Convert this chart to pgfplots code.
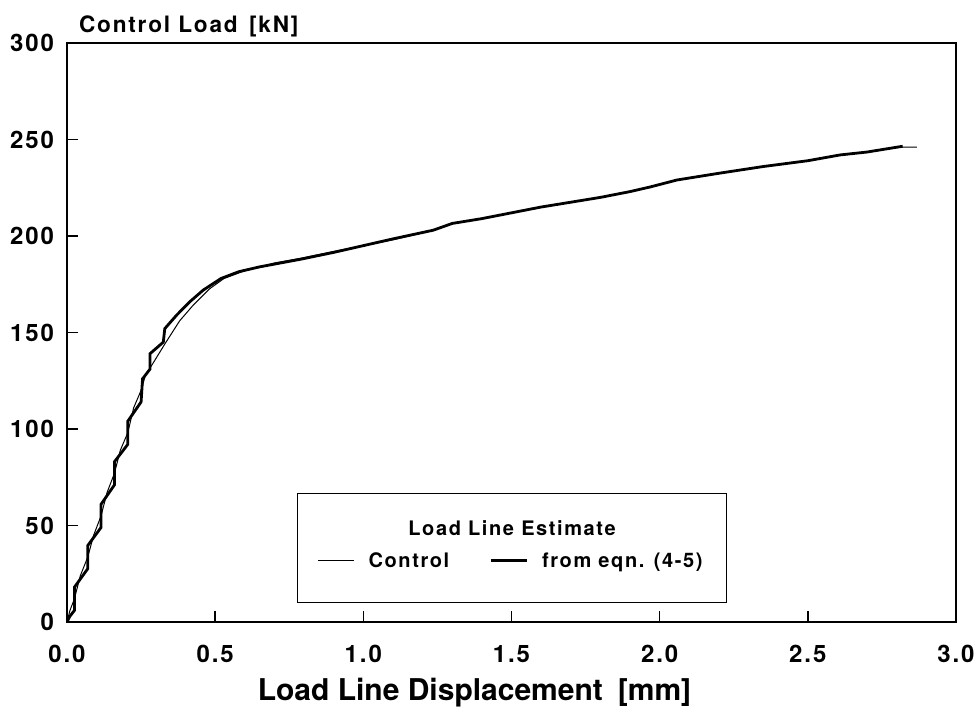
\documentclass[border=0pt]{standalone}
\usepackage{fontspec}
\setmainfont{TeX Gyre Heros}[LetterSpace=8]
\newfontfamily\plainfont{TeX Gyre Heros}
\usepackage{pgfplots}
\pgfplotsset{compat=1.18}

\begin{document}
\begin{tikzpicture}
\path[use as bounding box] (-33.5pt,-46.5pt) rectangle (456.5pt,311pt);
\begin{axis}[
    scale only axis,
    width=444.5pt,
    height=289.5pt,
    at={(0,0)}, anchor=south west,
    xmin=0, xmax=3,
    ymin=0, ymax=300,
    xtick={0,0.5,...,3.0},
    ytick={0,50,...,300},
    tick pos=left,
    tick align=inside,
    major tick length=5.5pt,
    axis line style={line width=0.8pt},
    tick style={line width=0.8pt, black},
    xticklabel={\pgfmathprintnumber[fixed,fixed zerofill,precision=1]{\tick}},
    /pgf/number format/assume math mode=true,
    ticklabel style={font=\bfseries\fontsize{12}{14}\selectfont},
    xticklabel style={yshift=-8pt},
    yticklabel style={xshift=-3pt},
    every axis y label/.style={at={(rel axis cs:0,1)}, anchor=base west, xshift=2.5pt, yshift=5.3pt},
    every axis x label/.style={at={(rel axis cs:0.5,0)}, anchor=base, xshift=-18.5pt, yshift=-39.5pt},
    ylabel={\bfseries\fontsize{11.3}{13}\selectfont Control Load\enspace[kN]},
    xlabel={\plainfont\bfseries\fontsize{15}{18}\selectfont Load Line Displacement\enspace[mm]},
    legend columns=2,
    legend image code/.code={\draw[#1] (0pt,-6.3pt) -- (18pt,-6.3pt);},
    legend style={
        at={(rel axis cs:0.2587,0.0323)}, anchor=south west,
        draw=black, line width=0.6pt,
        inner xsep=10pt, inner ysep=14pt,
        font=\bfseries\fontsize{10}{12}\selectfont,
        column sep=5pt,
        /tikz/every even column/.append style={column sep=18pt},
        label={[anchor=base, yshift=-21pt, inner sep=0pt, font=\bfseries\fontsize{10}{12}\selectfont]north:Load Line Estimate},
    },
]
\addplot[black, line width=0.5pt] coordinates {
    (0,0) (0.01,6) (0.025,12) (0.045,24) (0.07,33.6) (0.09,45)
    (0.115,55) (0.135,67) (0.16,77) (0.18,89) (0.205,98) (0.225,111)
    (0.25,120) (0.265,128) (0.29,134) (0.33,144) (0.38,156) (0.425,164)
    (0.48,172.5) (0.53,178) (0.6,182) (0.7,186) (0.79,188.5) (0.9,192)
    (1.0,195) (1.1,198) (1.236,203) (1.3,206.5) (1.4,209) (1.5,212)
    (1.6,215) (1.7,217.5) (1.8,220) (1.9,223) (1.968,225.4) (2.058,229)
    (2.2,232.5) (2.35,236) (2.5,239) (2.609,242) (2.7,243.5) (2.81,246)
    (2.868,246)
};
\addlegendentry{\rule{0pt}{21pt}Control}
\addplot[black, line width=1.4pt] coordinates {
    (0,0) (0.01,3) (0.025,6) (0.025,18) (0.07,27.6) (0.07,39.6)
    (0.115,49) (0.115,61) (0.16,71) (0.16,83) (0.205,92) (0.205,104)
    (0.25,114) (0.255,126) (0.28,131) (0.28,139) (0.325,145) (0.33,152)
    (0.37,159) (0.415,166) (0.46,172) (0.52,178) (0.58,181.5) (0.65,184)
    (0.79,188) (0.9,191.5) (1.0,195) (1.1,198.5) (1.236,203) (1.3,206.5)
    (1.4,209) (1.5,212) (1.6,215) (1.7,217.5) (1.8,220) (1.9,223)
    (1.968,225.4) (2.058,229) (2.2,232.5) (2.35,236) (2.5,239)
    (2.609,242) (2.7,243.5) (2.82,246.5)
};
\addlegendentry{\rule{0pt}{21pt}from eqn. (4-5)}
\end{axis}
\end{tikzpicture}
\end{document}
